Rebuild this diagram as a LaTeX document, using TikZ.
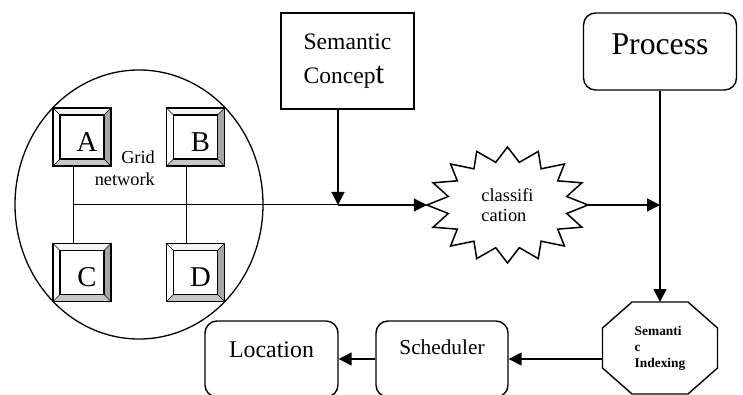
\documentclass[tikz,border=0pt]{standalone}
\usepackage{fontspec}
\setmainfont{Liberation Serif}
\usetikzlibrary{arrows.meta,shapes.geometric}

\tikzset{
  conn/.style={line width=1.6pt, -{Triangle[length=13pt,width=13pt]}},
  thinline/.style={line width=1pt},
  key/.style={draw, line width=1.6pt, minimum size=58pt, inner sep=0pt, outer sep=0pt,
    label={[font=\fontsize{28.7}{30}\selectfont, xshift=5pt, yshift=-5pt]center:#1}},
  plainbox/.style={draw, line width=1.4pt, inner sep=2pt},
  roundbox/.style={plainbox, rounded corners=12pt},
}

\begin{document}
\begin{tikzpicture}[x=1pt,y=-1pt]
\useasboundingbox (0,0) rectangle (743,395);
\clip (0,0) rectangle (743,395);
\node[draw, ellipse, line width=1.3pt, minimum width=248pt, minimum height=269pt] (grid) at (139,204.5) {};
\node[key=A] (a) at (82,137) {};
\node[key=B] (b) at (195.5,137) {};
\node[key=C] (c) at (82,272.5) {};
\node[key=D] (d) at (195.5,272.5) {};
\foreach \k in {a,b,c,d}{
  \fill[gray!8] (\k.north west) -- (\k.north east) -- ([shift={(-7pt,-7pt)}]\k.north east) -- ([shift={(7pt,-7pt)}]\k.north west) -- cycle;
  \fill[gray!70] (\k.north east) -- (\k.south east) -- ([shift={(-7pt,7pt)}]\k.south east) -- ([shift={(-7pt,-7pt)}]\k.north east) -- cycle;
  \fill[gray!45] (\k.south east) -- (\k.south west) -- ([shift={(7pt,7pt)}]\k.south west) -- ([shift={(-7pt,7pt)}]\k.south east) -- cycle;
  \draw[line width=0.6pt] (\k.north west) -- ([shift={(7pt,-7pt)}]\k.north west)
    (\k.north east) -- ([shift={(-7pt,-7pt)}]\k.north east)
    (\k.south east) -- ([shift={(-7pt,7pt)}]\k.south east)
    (\k.south west) -- ([shift={(7pt,7pt)}]\k.south west);
  \draw[line width=1.3pt] ([shift={(7pt,7pt)}]\k.south west) rectangle ([shift={(-7pt,-7pt)}]\k.north east);
  \draw[line width=1.6pt] (\k.north west) rectangle (\k.south east);
}
\node[anchor=east, inner sep=0pt, align=right, font=\fontsize{18.3}{22}\selectfont] (net) at (155,168) {Grid\\network};

\node[plainbox, minimum width=133pt, minimum height=96pt, align=left, font=\fontsize{23.6}{34.5}\selectfont] (sc) at (347.5,61) {Semantic\\Concep{\fontsize{31}{34.5}\selectfont t}};
\node[ellipse, minimum width=161pt, minimum height=116pt, inner sep=0pt, align=left, font=\fontsize{18.4}{20}\selectfont] (cls) at (507.5,205) {classifi\\cation};
\draw[line width=1.5pt, shift={(cls.center)}] plot[samples at={0,...,31}, variable=\t]
  ({(mod(\t,2)==0 ? 80.5 : 60.4)*cos(\t*11.25)}, {(mod(\t,2)==0 ? 58 : 43.5)*sin(\t*11.25)}) -- cycle;
\node[roundbox, minimum width=153pt, minimum height=77pt, font=\fontsize{31.7}{38}\selectfont, text height=21pt, text depth=14pt] (proc) at (660,51.5) {Process};
\node[minimum width=115pt, minimum height=92pt, outer sep=0pt, align=left, font=\bfseries\fontsize{13.4}{16}\selectfont] (idx) at (660,348) {Semanti\\c\\Indexing};
\draw[line width=1.4pt] ([xshift=29.5pt]idx.north west) -- ([xshift=-29.5pt]idx.north east) -- ([yshift=-26pt]idx.north east)
  -- ([yshift=26pt]idx.south east) -- ([xshift=-29.5pt]idx.south east) -- ([xshift=29.5pt]idx.south west)
  -- ([yshift=26pt]idx.south west) -- ([yshift=-26pt]idx.north west) -- cycle;
\node[roundbox, minimum width=132pt, minimum height=76pt, font=\fontsize{21.3}{26}\selectfont, text height=15pt, text depth=25pt] (sch) at (442,359) {Scheduler};
\node[roundbox, minimum width=133pt, minimum height=76pt, font=\fontsize{23.9}{28}\selectfont, text height=16pt, text depth=20pt] (loc) at (271.5,359) {Location};

\coordinate[xshift=-9.5pt] (lj) at (sc.south |- cls.west);
\coordinate[xshift=-9pt] (gl) at (a.south |- lj);
\coordinate (rj) at (proc.south |- cls.east);
\draw[thinline] ([xshift=-9pt]a.south) -- ([xshift=-9pt]c.north);
\draw[thinline] ([xshift=-9.5pt]b.south) -- ([xshift=-9.5pt]d.north);
\draw[thinline] (gl) -- (lj);
\draw[conn] ([xshift=-9.5pt]sc.south) -- (lj);
\draw[conn] (lj) -- (cls.west);
\draw[conn] (cls.east) -- (rj);
\draw[conn] (proc.south) -- (idx.north);
\draw[conn] ([yshift=-11pt]idx.west) -- (sch.east);
\draw[conn] (sch.west) -- (loc.east);
\end{tikzpicture}
\end{document}
